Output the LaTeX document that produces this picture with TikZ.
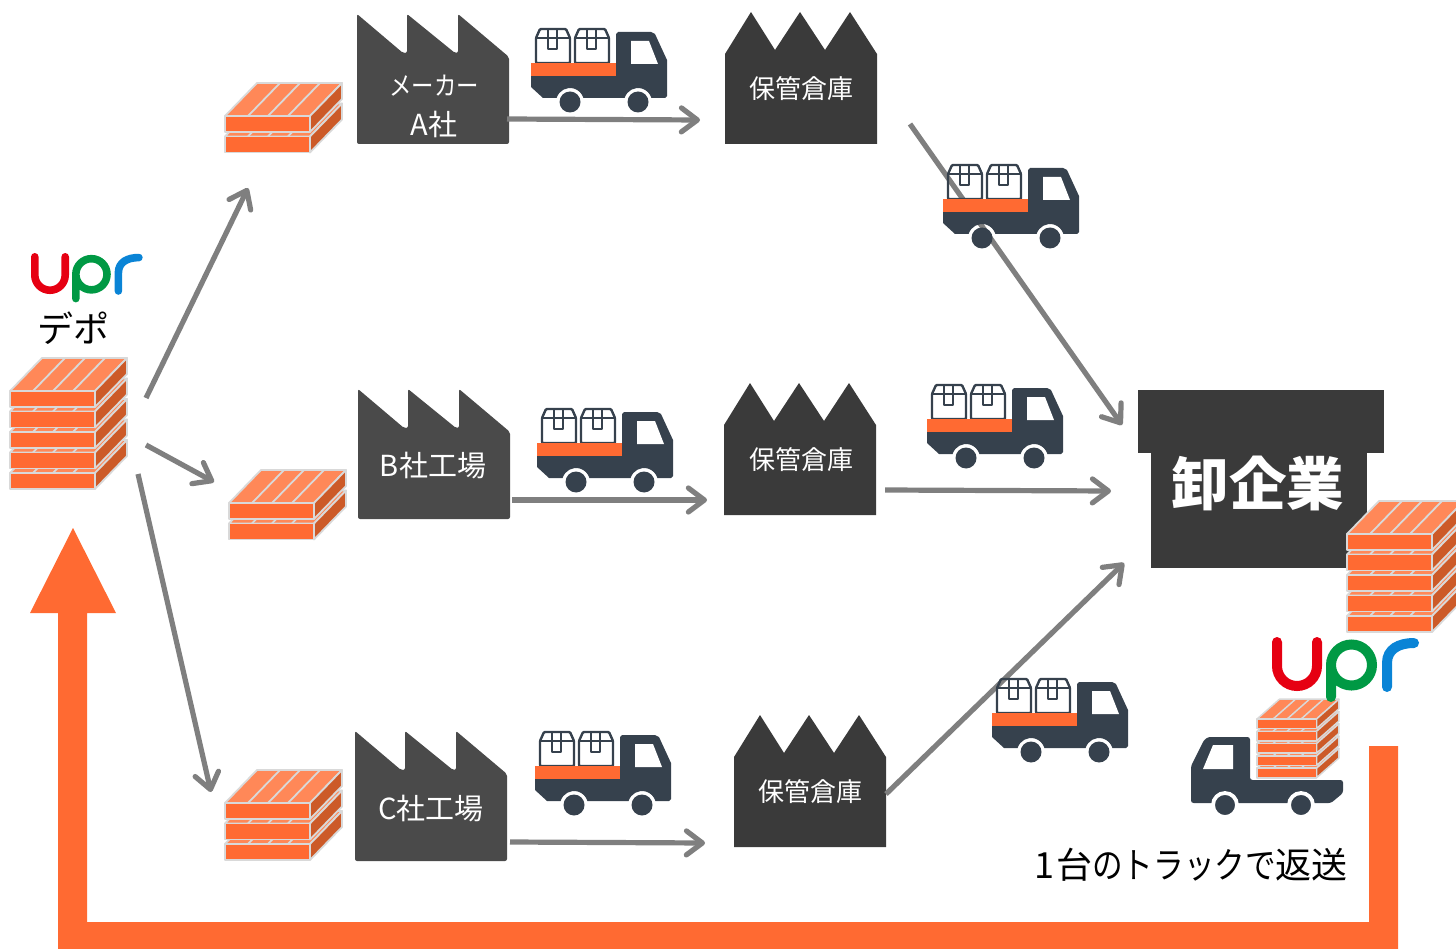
\documentclass[tikz,border=0pt]{standalone}
\usepackage{graphicx}
\usepackage{fontspec}
\setmainfont{Noto Sans CJK JP}
\usetikzlibrary{arrows.meta}
\definecolor{palfront}{HTML}{FF6A32}
\definecolor{paltop}{HTML}{FF8858}
\definecolor{palside}{HTML}{CC5A28}
\definecolor{paledge}{HTML}{D9D9D9}
\definecolor{truckc}{HTML}{36414D}
\definecolor{factoryc}{HTML}{4A4A4A}
\definecolor{storec}{HTML}{3A3A3A}
\definecolor{flowc}{HTML}{7F7F7F}
\definecolor{uprred}{HTML}{E60012}
\definecolor{uprgreen}{HTML}{009944}
\definecolor{uprblue}{HTML}{0A84D6}
\tikzset{
  flow/.style={draw=flowc,line width=5.2pt,-{Straight Barb[length=16pt,width=24pt,line width=5.2pt,round]}},
  labelw/.style={text=white,font=\fontsize{26}{28}\selectfont,inner sep=0pt},
  labelb/.style={text=white,font=\fontsize{29}{30}\selectfont,inner sep=0pt},
  labelk/.style={text=black,inner sep=0pt},
}
\newcommand{\pallet}[6]{%
\begin{scope}[shift={(#1,#2)},xscale=#4,yscale=#5,line width=#6,draw=paledge,line join=round]
\foreach \i in {#3}{
  \begin{scope}[shift={(0,20.5*\i)}]
  \filldraw[fill=paltop,draw=paledge] (0,0)--(32,-33)--(117,-33)--(85,0)--cycle;
  \draw (23,0)--(55,-33) (43,0)--(75,-33) (63,0)--(95,-33);
  \filldraw[fill=palside,draw=paledge] (85,0)--(117,-33)--(117,-17)--(85,16)--cycle;
  \filldraw[fill=palfront,draw=paledge] (0,0) rectangle (85,16);
  \end{scope}
}
\end{scope}}
\newcommand{\cartonbox}[1]{%
\begin{scope}[shift={(#1,0)}]
  \draw[truckc,line width=2.4pt,line join=round,rounded corners=1pt]
    (0,31)--(0,6)--(4,-3)--(30,-3)--(34,6)--(34,31)--cycle;
  \draw[truckc,line width=2.4pt,line join=round] (0,6)--(34,6) (12,-3)--(12,17)--(21,17)--(21,-3);
\end{scope}}
\newcommand{\truck}[2]{%
\begin{scope}[shift={(#1,#2)}]
  \fill[truckc] (0,44)--(0,55)--(12,66)--(25.6,66) arc[start angle=196.6,end angle=343.4,radius=14] --(93.6,66) arc[start angle=196.6,end angle=343.4,radius=14] --(134,66)--(136,64)--(136,28)--(124,2)--(120,0)--(87,0)--(85,2)--(85,44)--cycle;
  \fill[white] (100,9)--(118,9)--(127,32)--(100,32)--cycle;
  \cartonbox{5}\cartonbox{44}
  \fill[palfront] (0,31) rectangle (85,44);
  \fill[truckc] (39,70) circle (10.5);
  \fill[truckc] (107,70) circle (10.5);
\end{scope}}
\newcommand{\factoryshape}[2]{%
\begin{scope}[shift={(#1,#2)}]
  \fill[factoryc,rounded corners=2pt] (0,130)--(0,0)--(46,39)--(50,39)--(50,0)--(98,39)--(101,39)--(101,0)--(152,43)--(152,130)--cycle;
\end{scope}}
\newcommand{\storeshape}[3]{%
\begin{scope}[shift={(#1,#2)}]
  \fill[storec] (0,42)--(26,0)--(50,38)--(75,0)--(100,38)--(125,0)--(152,42)--(152,#3)--(0,#3)--cycle;
\end{scope}}
\newcommand{\uprlogo}[4]{%
\begin{scope}[shift={(#1,#2)},scale=#3,line width=#4,line cap=round]
  \draw[uprred] (5,5)--(5,29) arc[start angle=180,end angle=0,radius=20] -- (45,5);
  \draw[uprgreen] (59,60)--(59,28) arc[start angle=180,end angle=-180,radius=20.5];
  \draw[uprblue] (115,50)--(115,26) .. controls (115,12) and (127,6) .. (142,6);
\end{scope}}
\begin{document}
\begin{tikzpicture}[x=1pt,y=-1pt]
\useasboundingbox (0,0) rectangle (1456,949);
% return arrow
\fill[palfront] (73,528)--(116,613)--(87,613)--(87,922)--(1369,922)--(1369,746)--(1398,746)--(1398,949)--(58,949)--(58,613)--(30,613)--cycle;
% buildings
\factoryshape{357}{14}\factoryshape{358}{389}\factoryshape{355}{731}
\storeshape{725}{12}{132}\storeshape{724}{383}{132}\storeshape{734}{715}{132}
\fill[storec] (1138,390) rectangle (1384,453);
\fill[storec] (1151,453) rectangle (1367,568);
% anchors of the flows
\coordinate (d1) at (146,398); \coordinate (p1) at (248,188);
\coordinate (d2) at (146,445); \coordinate (p2) at (214,482);
\coordinate (d3) at (138,474); \coordinate (p3) at (211,792);
\coordinate (fa) at (507,119); \coordinate (sa) at (700,120);
\coordinate (fb) at (512,500); \coordinate (sb) at (707,500);
\coordinate (fc) at (510,842); \coordinate (sc) at (705,843);
\coordinate (oa) at (910,124); \coordinate (wa) at (1122,425);
\coordinate (ob) at (885,490); \coordinate (wb) at (1111,491);
\coordinate (oc) at (886,794); \coordinate (wc) at (1124,563);
\draw[flow] (d1)--(p1);
\draw[flow] (d2)--(p2);
\draw[flow] (d3)--(p3);
\draw[flow] (fa)--(sa);
\draw[flow] (fb)--(sb);
\draw[flow] (fc)--(sc);
\draw[flow] (oa)--(wa);
\draw[flow] (ob)--(wb);
\draw[flow] (oc)--(wc);
% trucks
\truck{531}{32}\truck{537}{412}\truck{535}{735}
\truck{943}{168}\truck{927}{388}\truck{992}{682}
% return truck
\fill[truckc,rounded corners=2.5pt] (1191,803)--(1191,766)--(1204,740)--(1208,737)--(1250,737)--(1250,780)--(1343,780)--(1343,793)--(1331,803)--cycle;
\fill[white] (1233,745)--(1233,769)--(1203,769)--(1213,745)--cycle;
\filldraw[fill=truckc,draw=white,line width=3.8pt] (1225,805) circle (12);
\filldraw[fill=truckc,draw=white,line width=3.8pt] (1301,805) circle (12);
% pallets
\pallet{10}{391}{4,3,2,1,0}{1}{1}{1.8pt}
\pallet{225}{116}{1,0}{1}{1}{1.8pt}
\pallet{229}{503}{1,0}{1}{1}{1.8pt}
\pallet{225}{803}{2,1,0}{1}{1}{1.8pt}
\pallet{1347}{534}{4,3,2,1,0}{1}{1}{1.8pt}
\pallet{1257}{719}{4,3,2,1,0}{0.7}{0.6}{1.5pt}
% logos
\uprlogo{1272}{637}{1}{10pt}
\uprlogo{31}{253}{0.76}{7.6pt}
% texts
\node[labelw] (tma) at (434,86) {\scalebox{.86}[1]{メーカー}};
\node[labelb] (taa) at (434,124) {A社};
\node[labelb] (tb) at (433,466) {B社工場};
\node[labelb] (tc) at (431,809) {C社工場};
\node[labelw] (wha) at (801,89) {保管倉庫};
\node[labelw] (whb) at (801,460) {保管倉庫};
\node[labelw] (whc) at (810,792) {保管倉庫};
\node[text=white,inner sep=0pt,font=\fontsize{57.5}{60}\selectfont\bfseries] (wh) at (1258,483) {卸企業};
\node[labelk,font=\fontsize{36}{40}\selectfont] (depo) at (73,328) {デポ};
\node[labelk,font=\fontsize{36}{40}\selectfont] (ret) at (1191,865) {1\kern2pt 台\scalebox{.85}[1]{のトラックで}返送};
\end{tikzpicture}
\end{document}
